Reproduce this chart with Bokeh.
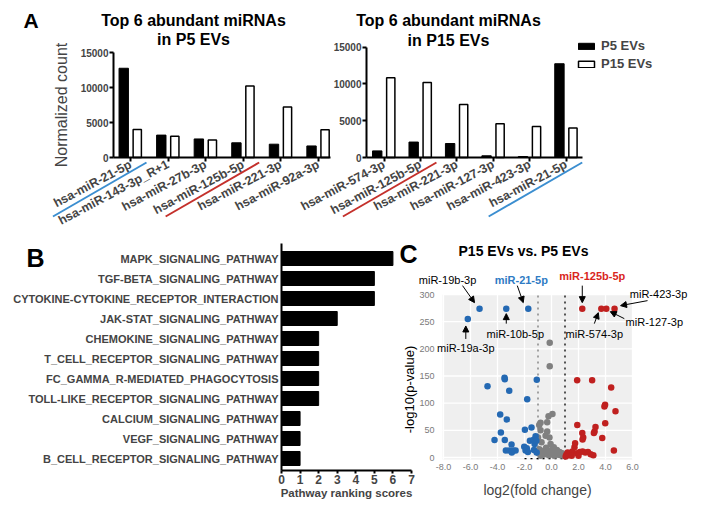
import math
import numpy as np
from bokeh.plotting import figure
from bokeh.models import (Range1d, LinearAxis, FixedTicker, Label, Arrow, NormalHead,
                          Legend, LegendItem, BoxAnnotation, NumeralTickFormatter, AllLabels)
from bokeh.layouts import column, row
from bokeh.embed import file_html
from bokeh.resources import INLINE

FONT = "Liberation Sans"

# ---------------- data ----------------
p5_top_names = ["hsa-miR-21-5p", "hsa-miR-143-3p_R+1", "hsa-miR-27b-3p",
                "hsa-miR-125b-5p", "hsa-miR-221-3p", "hsa-miR-92a-3p"]
p5_top_p5 = [12750, 3200, 2650, 2100, 1900, 1650]
p5_top_p15 = [4000, 3050, 2500, 10200, 7200, 3950]

p15_top_names = ["hsa-miR-574-3p", "hsa-miR-125b-5p", "hsa-miR-221-3p",
                 "hsa-miR-127-3p", "hsa-miR-423-3p", "hsa-miR-21-5p"]
p15_top_p5 = [900, 2100, 1900, 230, 130, 12750]
p15_top_p15 = [10850, 10200, 7200, 4600, 4200, 4000]

count_ticks = [0, 5000, 10000, 15000]
highlight = {"hsa-miR-21-5p": "#3b8ed0", "hsa-miR-125b-5p": "#c4302b"}

pathways = ["MAPK_SIGNALING_PATHWAY", "TGF-BETA_SIGNALING_PATHWAY",
            "CYTOKINE-CYTOKINE_RECEPTOR_INTERACTION", "JAK-STAT_SIGNALING_PATHWAY",
            "CHEMOKINE_SIGNALING_PATHWAY", "T_CELL_RECEPTOR_SIGNALING_PATHWAY",
            "FC_GAMMA_R-MEDIATED_PHAGOCYTOSIS", "TOLL-LIKE_RECEPTOR_SIGNALING_PATHWAY",
            "CALCIUM_SIGNALING_PATHWAY", "VEGF_SIGNALING_PATHWAY",
            "B_CELL_RECEPTOR_SIGNALING_PATHWAY"]
pathway_scores = [6, 5, 5, 3, 2, 2, 2, 2, 1, 1, 1]
score_ticks = [0, 1, 2, 3, 4, 5, 6, 7]

# volcano: down-regulated (blue), not significant (gray), up-regulated (red)
down_x = [-3.48, -3.46, -1.09, -4.74, -3.13, -1.80, -3.80, -3.31, -3.75, -4.22,
          -3.46, -2.96, -3.38, -3.13, -2.83, -2.66, -2.94, -1.97, -1.48, -2.02,
          -1.83, -1.60, -1.35, -1.18, -1.25, -1.30, -1.92, -1.75, -1.10, -1.12]
down_y = [147, 144, 143, 131, 123, 107, 79, 70, 46, 32,
          32, 24, 13, 13, 13, 13, 9, 51, 55, 20,
          17, 31, 32, 39, 25, 14, 13, 10, 9, 31]
ns_x = [-0.13, -0.13, 0.07, -0.22, -0.32, -0.81, -0.91, -1.00, -0.32, -0.44,
        -0.15, -0.74, -0.07, 0.17, -0.81, -0.90, -0.70, -0.50, -0.30, -0.10,
        0.10, 0.30, 0.50, 0.70, 0.90, -0.60, -0.20, 0.00, 0.40, -0.40,
        0.60, -0.95, 0.20, -0.80, 0.80]
ns_y = [211, 168, 80, 76, 65, 64, 60, 37, 48, 40,
        37, 28, 25, 19, 50, 15, 12, 10, 8, 12,
        6, 9, 5, 4, 3, 5, 4, 14, 14, 18,
        10, 8, 3, 3, 8]
up_x = [1.90, 3.01, 4.42, 3.97, 3.92, 4.74, 3.98, 1.91, 2.28, 2.35,
        2.30, 3.26, 3.19, 3.14, 3.76, 4.62, 1.10, 1.20, 1.30, 1.40,
        1.55, 1.70, 1.75, 1.90, 2.10, 2.30, 2.50, 2.70, 2.90, 3.10,
        1.50, 2.00, 1.05]
up_y = [142, 142, 129, 97, 94, 85, 63, 60, 45, 37,
        33, 56, 48, 45, 36, 13, 5, 9, 4, 7,
        11, 19, 26, 8, 10, 11, 9, 10, 6, 4,
        3, 3, 2]
named_mirs = ["miR-19b-3p", "miR-19a-3p", "miR-10b-5p", "miR-21-5p",
              "miR-125b-5p", "miR-574-3p", "miR-127-3p", "miR-423-3p"]
named_x = [-5.33, -6.20, -3.35, -1.72, 2.28, 3.69, 4.06, 4.67]
named_y = [274, 255, 274, 274, 274, 274, 274, 274]
fc_ticks = [-8, -6, -4, -2, 0, 2, 4, 6]
p_ticks = [0, 50, 100, 150, 200, 250, 300]
fc_cut = 1.0

BLUE = "#2469b3"
RED = "#c0201f"
GRAY = "#808080"

# page layout (the page has no margin): row 1 = panel A, row 2 = panels B | C
PAGE_W, ROW1_H, ROW2_H, SPLIT_X = 702, 233, 271, 418


def make_fig(w, h, xr, yr):
    p = figure(width=w, height=h, x_range=xr, y_range=yr, x_axis_type=None, y_axis_type=None,
               output_backend="svg", toolbar_location=None, min_border_left=0,
               min_border_right=0, min_border_top=0, min_border_bottom=0,
               outline_line_color=None, frame_align=False)
    return p


def style_axis(axis, size="10px"):
    axis.axis_line_width = 2
    axis.major_tick_line_width = 2
    axis.major_tick_out = 4
    axis.major_tick_in = 0
    axis.minor_tick_line_color = None
    axis.major_label_text_font = FONT
    axis.major_label_text_font_style = "bold"
    axis.major_label_text_font_size = size
    axis.axis_label_text_font = FONT
    axis.major_label_policy = AllLabels()


def lab(p, x, y, text, size, style="bold", color="black", angle=0.0):
    p.add_layout(Label(x=x, y=y, text=text, text_font=FONT, text_font_size=size,
                       text_font_style=style, text_color=color, text_align="center",
                       text_baseline="middle", angle=angle))


# ======================= Panel A =======================
U1, U2 = 37.56, 36.44       # px per group, chart 1 / chart 2
K1, K2 = 105.0, 110.3       # px per 15000 counts, chart 1 / chart 2
A_BASE = 157.0              # page y of zero counts


def ax(px):
    return (px - 130.0) / U1


def ay(py):
    return (A_BASE - py) * 15000 / K1


def ay2(py):
    return (A_BASE - py) * 15000 / K2


def pxa(x):
    return 130.0 + x * U1


pa = make_fig(PAGE_W, ROW1_H, Range1d(ax(0), ax(PAGE_W)), Range1d(ay(ROW1_H), ay(0)))
pa.extra_y_ranges = {"r2": Range1d(ay2(ROW1_H), ay2(0))}

x1 = np.arange(len(p5_top_names), dtype=float)
x2 = ax(383.5) + np.arange(len(p15_top_names), dtype=float) * (U2 / U1)

ya1 = LinearAxis(ticker=FixedTicker(ticks=count_ticks), bounds=(0, 15000),
                 fixed_location=ax(113), axis_label="Normalized count")
style_axis(ya1)
ya1.major_label_standoff = 1
ya1.axis_label_text_font_size = "16px"
ya1.axis_label_text_font_style = "normal"
ya1.axis_label_standoff = 8
pa.add_layout(ya1, "left")

ya2 = LinearAxis(y_range_name="r2", ticker=FixedTicker(ticks=count_ticks), bounds=(0, 15000),
                 fixed_location=ax(366))
style_axis(ya2)
ya2.major_label_standoff = 1
pa.add_layout(ya2, "left")

for xs, names, b0, b1 in ((x1, p5_top_names, ax(113), ax(330)),
                          (x2, p15_top_names, ax(366), ax(582))):
    xa = LinearAxis(ticker=FixedTicker(ticks=[float(v) for v in xs]), bounds=(b0, b1),
                    major_label_overrides={float(v): n for v, n in zip(xs, names)},
                    major_label_orientation=0.49, fixed_location=0)
    style_axis(xa, "12.5px")
    xa.major_label_standoff = 2
    pa.add_layout(xa, "below")

OFF, BW, WW = 0.18, 0.25, 0.22
rb1 = pa.vbar(x=x1 - OFF, top=p5_top_p5, bottom=0, width=BW, fill_color="black",
              line_color="black")
rw1 = pa.vbar(x=x1 + OFF, top=p5_top_p15, bottom=0, width=WW, fill_color="white",
              line_color="black", line_width=1.5)
pa.vbar(x=x2 - OFF, top=p15_top_p5, bottom=0, width=BW, fill_color="black",
        line_color="black", y_range_name="r2")
pa.vbar(x=x2 + OFF, top=p15_top_p15, bottom=0, width=WW, fill_color="white",
        line_color="black", line_width=1.5, y_range_name="r2")

legend = Legend(items=[LegendItem(label="P5 EVs", renderers=[rb1]),
                       LegendItem(label="P15 EVs", renderers=[rw1])],
                location=(576, ROW1_H - 71), glyph_width=20, glyph_height=8,
                label_standoff=5, label_height=15, spacing=3, padding=0, margin=0,
                border_line_color=None, background_fill_alpha=0,
                label_text_font=FONT, label_text_font_style="bold",
                label_text_font_size="13px")
pa.add_layout(legend)

lab(pa, ax(30.5), ay(20), "A", "21px")
lab(pa, ax(193), ay(20), "Top 6 abundant miRNAs", "16px")
lab(pa, ax(193), ay(39), "in P5 EVs", "16px")
lab(pa, ax(448), ay(20), "Top 6 abundant miRNAs", "16px")
lab(pa, ax(448), ay(40), "in P15 EVs", "16px")

ANG = math.radians(30)
UL_LEN = 108
for xs, names in ((x1, p5_top_names), (x2, p15_top_names)):
    for xv, n in zip(xs, names):
        if n in highlight:
            ex, ey = pxa(xv) + 16, A_BASE + 5
            sx, sy = ex - UL_LEN * math.cos(ANG), ey + UL_LEN * math.sin(ANG)
            pa.add_layout(Arrow(x_start=ax(sx), y_start=ay(sy), x_end=ax(ex), y_end=ay(ey),
                                end=None, line_color=highlight[n], line_width=2))

# ======================= Panel B =======================
BU_X, BU_Y = 130.0 / 7, 20.0   # px per score unit, px per bar slot


def bx(px):
    return (px - 281.0) / BU_X


def by(py):
    return 10.75 - (py - 243.0) / BU_Y


pb = make_fig(SPLIT_X, ROW2_H, Range1d(bx(0), bx(SPLIT_X)),
              Range1d(by(ROW1_H + ROW2_H), by(ROW1_H)))
ypos = list(range(len(pathways) - 1, -1, -1))
pb.hbar(y=ypos, right=pathway_scores, left=0, height=0.7, fill_color="black",
        line_color="black")

bya = LinearAxis(ticker=FixedTicker(ticks=ypos), fixed_location=0, bounds=(by(470), by(243)),
                 major_label_overrides={y: n for y, n in zip(ypos, pathways)})
style_axis(bya, "11px")
bya.major_tick_out = 0
bya.major_label_standoff = 3
pb.add_layout(bya, "left")

bxa = LinearAxis(ticker=FixedTicker(ticks=score_ticks), fixed_location=by(470),
                 bounds=(0, 7), axis_label="Pathway ranking scores")
style_axis(bxa, "12px")
bxa.major_tick_out = 3
bxa.major_label_standoff = 1
bxa.axis_label_text_font_style = "bold"
bxa.axis_label_text_font_size = "11.5px"
bxa.axis_label_standoff = 0
pb.add_layout(bxa, "below")

lab(pb, bx(35), by(257), "B", "25px")
lab(pb, bx(408), by(253), "C", "25px")
lab(pb, bx(409), by(389), "-log10(p-value)", "13px", style="normal", angle=math.pi / 2)

# ======================= Panel C =======================
SX, SY = 13.5, 0.5433          # px per log2 unit, px per -log10 unit
CX0, CX1, CY0, CY1 = -8.07, 6.0, -3.7, 300.0


def cx(px):
    return -8.0 + (px - 443.0) / SX


def cy(py):
    return (457.0 - py) / SY


pc = make_fig(PAGE_W - SPLIT_X, ROW2_H, Range1d(cx(SPLIT_X), cx(PAGE_W)),
              Range1d(cy(ROW1_H + ROW2_H), cy(ROW1_H)))
pc.add_layout(BoxAnnotation(left=CX0, right=CX1, bottom=CY0, top=CY1, fill_color="#efefef",
                            fill_alpha=1, line_color=None, level="underlay"))
pc.segment(x0=fc_ticks, y0=[CY0] * len(fc_ticks), x1=fc_ticks, y1=[CY1] * len(fc_ticks),
           line_color="white", line_width=1.3)
pc.segment(x0=[CX0] * len(p_ticks), y0=p_ticks, x1=[CX1] * len(p_ticks), y1=p_ticks,
           line_color="white", line_width=1.3)

cxa = LinearAxis(ticker=FixedTicker(ticks=fc_ticks), fixed_location=CY0,
                 bounds=(CX0 - 0.5, CX1 + 0.5),
                 formatter=NumeralTickFormatter(format="0.0"), axis_label="log2(fold change)")
cya = LinearAxis(ticker=FixedTicker(ticks=p_ticks), fixed_location=CX0,
                 bounds=(CY0 - 5, CY1 + 5))
for axis in (cxa, cya):
    axis.axis_line_color = None
    axis.major_tick_line_color = None
    axis.major_tick_out = 4
    axis.major_tick_in = 0
    axis.minor_tick_line_color = None
    axis.major_label_text_font = FONT
    axis.major_label_text_font_size = "9px"
    axis.major_label_text_color = "#7a7a7a"
    axis.major_label_policy = AllLabels()
cxa.major_label_standoff = 0
cya.major_label_standoff = 4
cxa.axis_label_text_font = FONT
cxa.axis_label_text_font_style = "normal"
cxa.axis_label_text_font_size = "14px"
cxa.axis_label_standoff = 9
pc.add_layout(cxa, "below")
pc.add_layout(cya, "left")

pc.segment(x0=[-fc_cut], y0=[CY0], x1=[-fc_cut], y1=[CY1], line_color="#777777",
           line_dash="dotted", line_width=1.3)
pc.segment(x0=[fc_cut], y0=[CY0], x1=[fc_cut], y1=[CY1], line_color="black",
           line_dash="dotted", line_width=1.3)
pc.segment(x0=[-2 * fc_cut], y0=[CY0 + 1.5], x1=[fc_cut], y1=[CY0 + 1.5], line_color="black",
           line_dash="dotted", line_width=1.3)

pc.scatter(ns_x, ns_y, size=6.5, fill_color=GRAY, line_color=None)
pc.scatter(down_x, down_y, size=6.5, fill_color=BLUE, line_color=None)
pc.scatter(up_x, up_y, size=6.5, fill_color=RED, line_color=None)
pc.scatter(named_x, named_y, size=6.5, line_color=None,
           fill_color=[BLUE if v < 0 else RED for v in named_x])

# label offset (px), arrow start offset, arrow end offset ; colour, style
ann = {
    "miR-19b-3p": ((-32, -29), (-17, -23), (-5, -6), "black", "normal"),
    "miR-19a-3p": ((-2, 29), (-2, 20), (-2, 7), "black", "normal"),
    "miR-10b-5p": ((9, 25), (0, 15), (0, 5), "black", "normal"),
    "miR-21-5p": ((-7, -29), (-11, -23), (-5, -6), "#2e7bc4", "bold"),
    "miR-125b-5p": ((10, -33), (0, -23), (0, -6), "#d9261c", "bold"),
    "miR-574-3p": ((-7, 25), (-7, 15), (-3, 4), "black", "normal"),
    "miR-127-3p": ((48, 13), (18, 10), (4, 3), "black", "normal"),
    "miR-423-3p": ((44, -15), (33, -8), (6, -3), "black", "normal"),
}
for n, xv, yv in zip(named_mirs, named_x, named_y):
    (lx, ly), (sx, sy), (ex, ey), col, st = ann[n]
    lab(pc, xv + lx / SX, yv - ly / SY, n, "11px", style=st, color=col)
    pc.add_layout(Arrow(x_start=xv + sx / SX, y_start=yv - sy / SY,
                        x_end=xv + ex / SX, y_end=yv - ey / SY, line_color="black",
                        line_width=1,
                        end=NormalHead(size=6, fill_color="black", line_color="black")))

lab(pc, cx(523), cy(250), "P15 EVs vs. P5 EVs", "14px")

layout = column(pa, row(pb, pc))
open("out.html", "w").write(file_html(layout, INLINE))
